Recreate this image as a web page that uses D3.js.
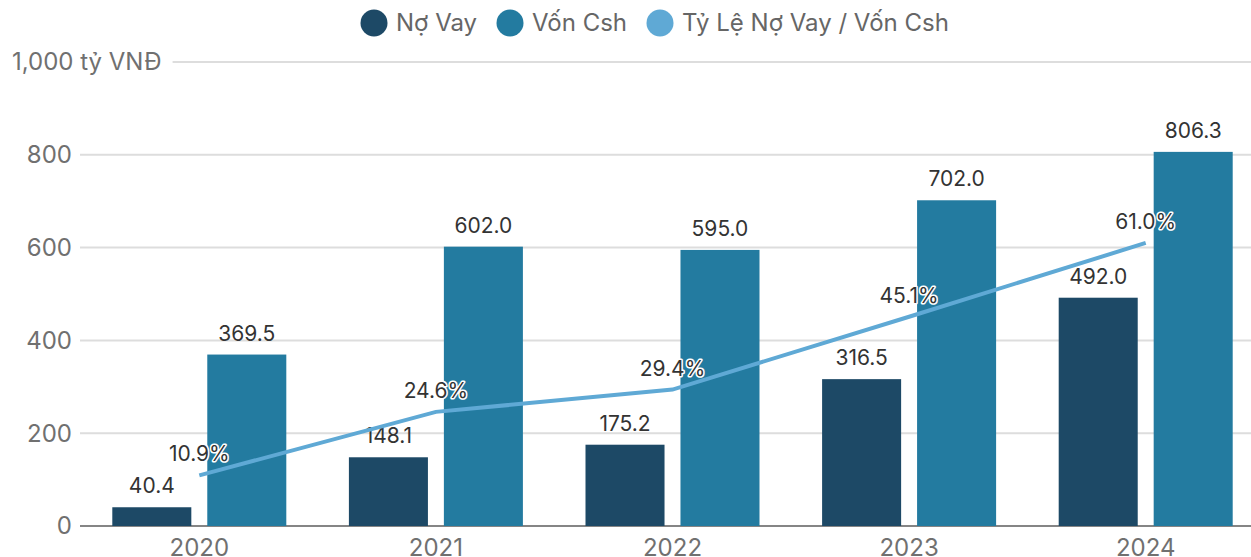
<!DOCTYPE html>
<html>
<head>
<meta charset="utf-8">
<script src="https://cdn.jsdelivr.net/npm/d3@7"></script>
<style>
  body { margin: 0; background: #fff; }
  svg { display: block; font-family: Inter, 'Noto Sans', sans-serif; }
</style>
</head>
<body>
<svg id="svg" width="1251" height="557"></svg>
<script>
const years = ['2020', '2021', '2022', '2023', '2024']
const noVay = [40.4, 148.1, 175.2, 316.5, 492.0]
const vonCsh = [369.5, 602.0, 595.0, 702.0, 806.3]
const tyLe = [10.9, 24.6, 29.4, 45.1, 61.0]
const yTicks = [0, 200, 400, 600, 800, 1000]
const seriesNames = ['Nợ Vay', 'Vốn Csh', 'Tỷ Lệ Nợ Vay / Vốn Csh']

const colours = ['#1d4966', '#237ba0', '#5fa9d5']
const fmt = d3.format('.1f')

const svg = d3.select('#svg')

const y = d3.scaleLinear().domain([0, 1000]).range([526, 62])
const yPct = d3.scaleLinear().domain([0, 100]).range([526, 62])
const x = d3.scaleBand().domain(years).range([81, 1264])
const xSub = d3.scaleBand().domain(['no', 'von']).range([-87, 87]).paddingInner(0.168)
const cx = d => x(d) + x.bandwidth() / 2

// grid + y labels
const grid = svg.append('g')
yTicks.forEach(t => {
  const label = grid.append('text')
    .attr('y', y(t))
    .attr('dy', '0.35em')
    .style('font-size', '24px')
    .style('fill', '#707070')
  let x0
  if (t === 1000) {
    label.attr('x', 12).text('1,000 tỷ VNĐ')
    x0 = 12 + label.node().getComputedTextLength() + 11
  } else {
    label.attr('x', 72).attr('text-anchor', 'end').text(t)
    x0 = 80
  }
  grid.append('line')
    .attr('x1', x0).attr('x2', 1251)
    .attr('y1', y(t)).attr('y2', y(t))
    .attr('stroke', t === 0 ? '#858585' : '#dddddd')
    .attr('stroke-width', 2)
})

// bars
const groups = svg.append('g')
  .selectAll('g')
  .data(years)
  .join('g')
  .attr('transform', d => `translate(${cx(d)},0)`)

const barData = (d, i) => [
  { key: 'no', value: noVay[i], colour: colours[0] },
  { key: 'von', value: vonCsh[i], colour: colours[1] }
]

groups.selectAll('rect')
  .data(barData)
  .join('rect')
  .attr('x', d => xSub(d.key))
  .attr('width', xSub.bandwidth())
  .attr('y', d => y(d.value))
  .attr('height', d => y(0) - y(d.value))
  .attr('fill', d => d.colour)

groups.selectAll('text.val')
  .data(barData)
  .join('text')
  .attr('class', 'val')
  .attr('x', d => xSub(d.key) + xSub.bandwidth() / 2)
  .attr('y', d => y(d.value) - 14)
  .attr('text-anchor', 'middle')
  .style('font-size', '21px')
  .style('fill', '#333')
  .text(d => fmt(d.value))

// year labels
svg.append('g')
  .selectAll('text')
  .data(years)
  .join('text')
  .attr('x', d => cx(d))
  .attr('y', 556)
  .attr('text-anchor', 'middle')
  .style('font-size', '24px')
  .style('fill', '#707070')
  .text(d => d)

// ratio line
const line = d3.line()
  .x((d, i) => cx(years[i]))
  .y(d => yPct(d))

svg.append('path')
  .datum(tyLe)
  .attr('d', line)
  .attr('fill', 'none')
  .attr('stroke', colours[2])
  .attr('stroke-width', 4)

svg.append('g')
  .selectAll('text')
  .data(tyLe)
  .join('text')
  .attr('x', (d, i) => cx(years[i]))
  .attr('y', d => yPct(d) - 14)
  .attr('text-anchor', 'middle')
  .style('font-size', '21px')
  .style('fill', '#333')
  .style('stroke', '#fff')
  .style('stroke-width', 3)
  .style('paint-order', 'stroke')
  .style('stroke-linejoin', 'round')
  .text(d => fmt(d) + '%')

// legend
const legendX = [374, 510, 660]
const legend = svg.append('g')
  .selectAll('g')
  .data(seriesNames)
  .join('g')
  .attr('transform', (d, i) => `translate(${legendX[i]},23)`)

legend.append('circle')
  .attr('r', 13.5)
  .attr('fill', (d, i) => colours[i])

legend.append('text')
  .attr('x', 22)
  .attr('dy', '0.35em')
  .style('font-size', '24px')
  .style('fill', '#666')
  .text(d => d)
</script>
</body>
</html>
